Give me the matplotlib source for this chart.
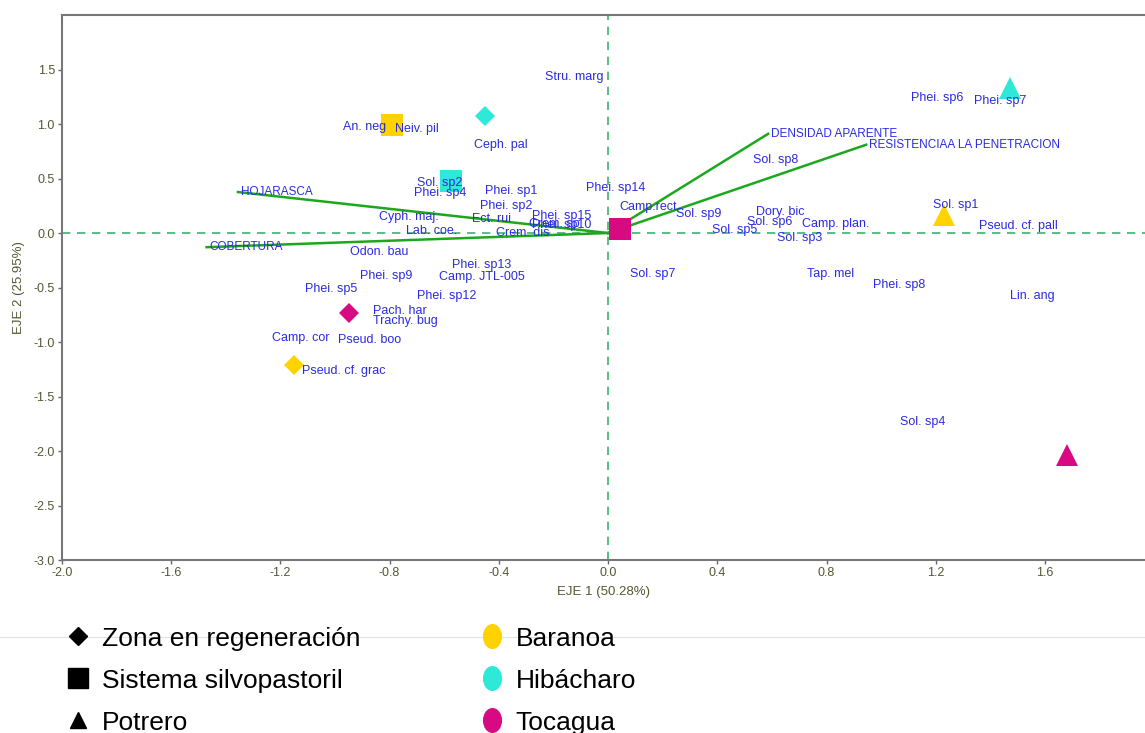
import numpy as np
import matplotlib
matplotlib.use("Agg")
import matplotlib.pyplot as plt
from matplotlib.lines import Line2D
from matplotlib.path import Path
from matplotlib.transforms import Affine2D

plt.rcParams['font.family'] = ['Liberation Sans', 'DejaVu Sans']

# especies (etiquetas del biplot)
especies = ["Stru. marg", "An. neg", "Neiv. pil", "Ceph. pal", "Sol. sp2", "Phei. sp4",
            "Phei. sp1", "Phei. sp2", "Cyph. maj.", "Ect. rui", "Lab. coe.", "Phei. sp15",
            "Crem. sp", "Phei. sp10", "Crem. dis", "Phei. sp14", "Camp.rect", "Sol. sp9",
            "Sol. sp8", "Dory. bic", "Sol. sp6", "Sol. sp5", "Camp. plan.", "Sol. sp3",
            "Phei. sp6", "Phei. sp7", "Sol. sp1", "Pseud. cf. pall", "Tap. mel", "Phei. sp8",
            "Lin. ang", "Sol. sp4", "Sol. sp7", "Odon. bau", "Phei. sp9", "Phei. sp13",
            "Camp. JTL-005", "Phei. sp5", "Phei. sp12", "Pach. har", "Trachy. bug",
            "Camp. cor", "Pseud. boo", "Pseud. cf. grac"]
esp_x = [-0.23, -0.97, -0.78, -0.49, -0.70, -0.71,
         -0.45, -0.47, -0.84, -0.50, -0.74, -0.28,
         -0.29, -0.28, -0.41, -0.08, 0.04, 0.25,
         0.53, 0.54, 0.51, 0.38, 0.71, 0.62,
         1.11, 1.34, 1.19, 1.36, 0.73, 0.97,
         1.47, 1.07, 0.08, -0.945, -0.91, -0.57,
         -0.62, -1.11, -0.70, -0.86, -0.86,
         -1.23, -0.99, -1.12]
esp_y = [1.43, 0.97, 0.95, 0.81, 0.46, 0.37,
         0.39, 0.25, 0.15, 0.13, 0.02, 0.16,
         0.08, 0.07, 0.00, 0.41, 0.24, 0.17,
         0.67, 0.19, 0.10, 0.03, 0.08, -0.05,
         1.24, 1.21, 0.26, 0.06, -0.38, -0.48,
         -0.58, -1.73, -0.38, -0.17, -0.39, -0.29,
         -0.40, -0.51, -0.58, -0.72, -0.81,
         -0.96, -0.98, -1.27]

# sitios
sitio_x = [-0.79, -0.45, -0.575, 0.045, 1.47, 1.23, 1.68, -0.95, -1.15]
sitio_y = [0.99, 1.07, 0.48, 0.04, 1.33, 0.165, -2.04, -0.735, -1.21]
sitio_uso = ["silvo", "regen", "silvo", "silvo", "potrero", "potrero", "potrero", "regen", "regen"]
sitio_lugar = ["Baranoa", "Hibácharo", "Hibácharo", "Tocagua", "Hibácharo", "Baranoa",
               "Tocagua", "Tocagua", "Baranoa"]

# variables de suelo
variables = ["HOJARASCA", "COBERTURA", "DENSIDAD APARENTE", "RESISTENCIAA LA PENETRACION"]
var_x = [-1.355, -1.47, 0.586, 0.945]
var_y = [0.376, -0.13, 0.91, 0.81]

xticks = [-2.0, -1.6, -1.2, -0.8, -0.4, 0.0, 0.4, 0.8, 1.2, 1.6]
yticks = [-3.0, -2.5, -2.0, -1.5, -1.0, -0.5, 0.0, 0.5, 1.0, 1.5]

colores = {"Baranoa": "#ffd200", "Hibácharo": "#2ee8d8", "Tocagua": "#d80a82"}
marcas = {"regen": "D", "silvo": "s", "potrero": "^"}
tamanos = {"regen": 10.5, "silvo": 16, "potrero": 16}

fig = plt.figure(figsize=(11.45, 7.33), dpi=100)
ax = fig.add_axes([0.054, 0.236, 0.946, 0.7435])

ax.axhline(0, color="#3cb371", lw=1.2, ls=(0, (5, 4)), zorder=1)
ax.axvline(0, color="#3cb371", lw=1.2, ls=(0, (5, 4)), zorder=1)

for vx, vy in zip(var_x, var_y):
    ax.plot([0, vx], [0, vy], color="#1ca81c", lw=1.8, zorder=2)

for x, y, u, l in zip(sitio_x, sitio_y, sitio_uso, sitio_lugar):
    ax.plot(x, y, marker=marcas[u], ms=tamanos[u], color=colores[l], mew=0, ls="none", zorder=3)

for n, x, y in zip(especies, esp_x, esp_y):
    ax.text(x, y, n, color="#2b2be0", fontsize=9, ha="left", va="center", zorder=4)

for n, x, y in zip(variables, var_x, var_y):
    ax.annotate(n, (x, y), xytext=(2, 0), textcoords="offset points", color="#2b2be0",
                fontsize=8.5, ha="left", va="center", zorder=4)

ax.set_xlim(-2.0, 1.966)
ax.set_ylim(-3.0, 2.0)
ax.set_xticks(xticks)
ax.set_xticklabels(["%.1f" % v for v in xticks])
ax.set_yticks(yticks)
ax.set_yticklabels(["%.1f" % v for v in yticks])
ax.tick_params(labelsize=9, labelcolor="#555533", color="#666666", length=3, width=1, pad=2)
ax.spines["right"].set_visible(False)
for s in ["left", "bottom", "top"]:
    ax.spines[s].set_color("#777777")
    ax.spines[s].set_linewidth(1.5)
ax.set_xlabel("EJE 1 (50.28%)", fontsize=9.5, color="#555533", labelpad=5)
ax.set_ylabel("EJE 2 (25.95%)", fontsize=9.5, color="#555533", labelpad=6)

fig.add_artist(Line2D([0, 1], [0.131, 0.131], transform=fig.transFigure, color="#e2e2e2", lw=0.8))

elipse = Path.unit_circle().transformed(Affine2D().scale(0.75, 1.0))
handles = [Line2D([], [], marker="D", color="black", ms=9.5, ls="none"),
           Line2D([], [], marker="s", color="black", ms=15, ls="none"),
           Line2D([], [], marker="^", color="black", ms=12, ls="none")]
handles += [Line2D([], [], marker=elipse, color=colores[l], ms=17, ls="none")
            for l in ["Baranoa", "Hibácharo", "Tocagua"]]
labels = ["Zona en regeneración", "Sistema silvopastoril", "Potrero",
          "Baranoa", "Hibácharo", "Tocagua"]
fig.legend(handles, labels, loc="upper left", bbox_to_anchor=(0.045, 0.163), ncol=2,
           frameon=False, fontsize=19, handlelength=1.0, handletextpad=0.4,
           columnspacing=4.5, labelspacing=0.68, borderpad=0)

fig.savefig("out.png", dpi=100)
